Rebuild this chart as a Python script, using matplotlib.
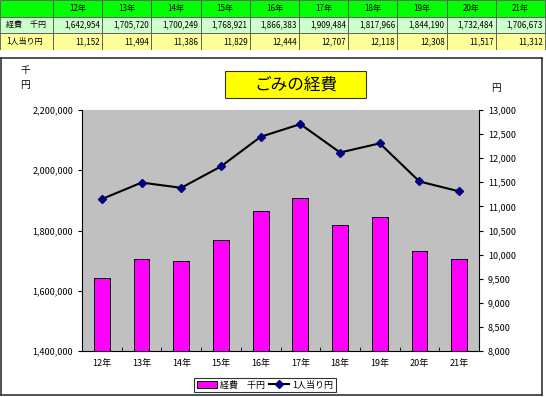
import numpy as np
import matplotlib
matplotlib.use("Agg")
import matplotlib.pyplot as plt
from matplotlib.patches import Rectangle
from matplotlib.ticker import FuncFormatter, MultipleLocator

plt.rcParams['font.family'] = ['Noto Sans CJK JP', 'DejaVu Sans']

# data
years = ['12年', '13年', '14年', '15年', '16年', '17年', '18年', '19年', '20年', '21年']
cost = [1642954, 1705720, 1700249, 1768921, 1866383, 1909484, 1817966, 1844190, 1732484, 1706673]
per_person = [11152, 11494, 11386, 11829, 12444, 12707, 12118, 12308, 11517, 11312]
row_labels = ['経費　千円', '1人当り円']

W, H = 546, 397
fig = plt.figure(figsize=(W / 100, H / 100), dpi=100)

def fx(px):
    return px / W

def fy(py):
    return 1 - py / H

# ---- table at the top ----
tab = fig.add_axes([0, fy(50), 1, 50 / H])
tab.set_xlim(0, W)
tab.set_ylim(50, 0)
tab.axis('off')
first_w = 53
col_w = (W - 1 - first_w) / len(years)
row_y = [0, 17, 33, 50]
row_colors = ['#00ff00', '#ccffcc', '#ffff99']
for r in range(3):
    y0, y1 = row_y[r], row_y[r + 1]
    tab.add_patch(Rectangle((0, y0), first_w, y1 - y0, fc=row_colors[r], ec='#555555', lw=0.6))
    if r > 0:
        tab.text(6, (y0 + y1) / 2, row_labels[r - 1], fontsize=5.8, va='center', ha='left')
    for i in range(len(years)):
        x0 = first_w + i * col_w
        tab.add_patch(Rectangle((x0, y0), col_w, y1 - y0, fc=row_colors[r], ec='#555555', lw=0.6))
        if r == 0:
            tab.text(x0 + col_w / 2, (y0 + y1) / 2, years[i], fontsize=5.8, va='center', ha='center')
        else:
            v = cost[i] if r == 1 else per_person[i]
            tab.text(x0 + col_w - 2, (y0 + y1) / 2, f'{v:,}', fontsize=5.8, va='center', ha='right')

# ---- chart frame ----
frame = fig.add_axes([fx(1), fy(395), fx(541), (395 - 58) / H])
frame.set_xticks([])
frame.set_yticks([])
for s in frame.spines.values():
    s.set_color('#333333')
    s.set_linewidth(1.2)
frame.set_zorder(0)

# ---- plot area ----
ax = fig.add_axes([fx(82), fy(351), fx(479 - 82), (351 - 110) / H])
ax.set_zorder(2)
ax.set_facecolor('#c0c0c0')
x = np.arange(len(years))
ax.bar(x, cost, width=0.4, color='#ff00ff', edgecolor='black', linewidth=0.7, label='経費　千円', zorder=2)
ax.set_ylim(1400000, 2200000)
ax.set_xlim(-0.5, len(years) - 0.5)
ax.yaxis.set_major_locator(MultipleLocator(200000))
ax.yaxis.set_major_formatter(FuncFormatter(lambda v, p: f'{int(v):,}'))
ax.set_xticks(x)
ax.set_xticklabels(years)
ax.set_xticks(np.arange(-0.5, len(years), 1), minor=True)
ax.tick_params(axis='x', which='major', length=0, labelsize=6.5, pad=6)
ax.tick_params(axis='x', which='minor', length=3, direction='in')
ax.tick_params(axis='y', labelsize=6.5, length=3, direction='out')
for s in ['top', 'right']:
    ax.spines[s].set_visible(False)
ax.spines['left'].set_linewidth(0.8)
ax.spines['bottom'].set_linewidth(0.8)

ax2 = ax.twinx()
ax2.plot(x, per_person, color='black', lw=1.5, marker='D', markersize=4,
         markerfacecolor='#000080', markeredgecolor='#000080', label='1人当り円', zorder=3)
ax2.set_ylim(8000, 13000)
ax2.yaxis.set_major_locator(MultipleLocator(500))
ax2.yaxis.set_major_formatter(FuncFormatter(lambda v, p: f'{int(v):,}'))
ax2.tick_params(axis='y', labelsize=6.5, length=3, direction='out')
for s in ['top', 'left', 'bottom']:
    ax2.spines[s].set_visible(False)
ax2.spines['right'].set_linewidth(0.8)

# axis unit labels
fig.text(fx(25), fy(70), '千', fontsize=7, ha='center', va='center')
fig.text(fx(25), fy(85), '円', fontsize=7, ha='center', va='center')
fig.text(fx(496), fy(88), '円', fontsize=7, ha='center', va='center')

# title box
fig.patches.append(Rectangle((fx(225), fy(98)), fx(366 - 225), (98 - 71) / H,
                             transform=fig.transFigure, fc='#ffff00', ec='#333333', lw=0.8))
fig.text(fx(295.5), fy(85), 'ごみの経費', fontsize=12, ha='center', va='center')

# legend
h1, l1 = ax.get_legend_handles_labels()
h2, l2 = ax2.get_legend_handles_labels()
leg = fig.legend(h1 + h2, l1 + l2, loc='center', bbox_to_anchor=(fx(265), fy(385)),
                 ncol=2, fontsize=6.5, frameon=True, fancybox=False, handlelength=2.2,
                 handleheight=0.8, columnspacing=0.5, handletextpad=0.3, borderpad=0.3)
leg.get_frame().set_edgecolor('black')
leg.get_frame().set_linewidth(0.8)

fig.savefig('out.png', dpi=100)
